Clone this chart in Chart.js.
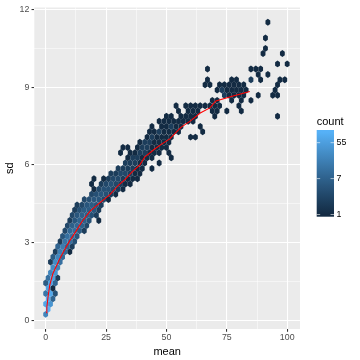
<!DOCTYPE html>
<html><head><meta charset="utf-8">
<script src="https://cdn.jsdelivr.net/npm/chart.js@4.4.1/dist/chart.umd.min.js"></script>
<style>html,body{margin:0;padding:0;background:#fff}canvas{display:block}</style>
</head><body>
<canvas id="c" width="360" height="360"></canvas>
<script>
// ---- data: hexbin cells (row sd, cell means, cell counts) ----
const rowSd = [0.22,0.42,0.62,0.82,1.03,1.23,1.43,1.63,1.83,2.03,2.24,2.44,2.64,2.84,3.04,3.24,3.45,3.65,3.85,4.05,4.25,4.45,4.66,4.86,5.06,5.26,5.46,5.66,5.86,6.07,6.27,6.47,6.67,6.87,7.07,7.28,7.48,7.68,7.88,8.08,8.28,8.49,8.69,8.89,9.09,9.29,9.49,9.70,9.90,10.30,10.50,10.90,11.51];
const rowMeans = [
 [0],[1],[0,2],[1,3],[0,2,4],[1,3],[0,2,4],[1,3,5],[2,4],[3,5],
 [2,4,6],[3,5,7],[4,6,8,10],[5,7,9,11],[6,8,10,12],[7,9,11,13],[8,10,12,14,16],[9,11,13,15,17],[10,12,14,16,18,22],[11,13,15,17,19,21],
 [12,14,16,18,20,22],[13,15,17,19,21,23],[16,18,20,22,24,26],[19,21,23,25,27,29],[20,22,24,26,28,30,32],[19,23,25,27,29,31,33,35],[20,24,26,28,30,32,34,36,38],[27,29,31,33,35,37,39],[30,32,34,36,38,40,44],[33,35,37,39,41,47],
 [34,36,38,40,42,44,52],[31,35,37,39,41,43,45,47,51],[32,34,38,40,42,44,46,48,50],[39,41,43,45,47,49,51],[42,44,46,48,50,52,60,62],[43,45,47,49,51,53,55,65],[44,48,50,52,54,56,64],[47,49,51,53,55,57,59,61],[50,52,56,58,60,62,70,96],[55,59,61,63,69,71,75,81],
 [54,58,60,62,64,66,68,70,72,80],[69,71,77,81,85],[74,76,78,80,82,88,94,96],[71,73,75,77,79,81,83,95],[66,68,72,74,76,78,80,82,96],[67,77,79,85,89,97,99],[88,92],[67,85,87,89],[96,100],[90,98],[91],[91],[92]
];
const rowCounts = [
 [25],[98],[70,40],[85,8],[15,75,4],[60,1],[6,60,8],[12,55,2],[25,40],[30,22],
 [2,30,12],[6,25,10],[2,20,10,1],[8,18,9,2],[2,14,12,4],[5,12,12,5],[3,9,11,6,2],[3,7,9,7,3],[2,5,8,7,4,1],[3,5,7,7,4,2],
 [2,4,6,6,5,2],[2,3,5,6,5,2],[3,4,5,5,3,1],[3,4,5,4,2,1],[1,3,4,4,3,2,1],[1,2,3,4,3,2,1,1],[1,1,2,3,3,2,1,1,1],[2,2,3,3,2,1,1],[2,2,2,2,1,1,1],[2,2,2,1,1,1],
 [1,2,2,1,1,1,1],[1,1,1,2,2,1,1,1,1],[1,1,1,2,2,1,1,1,1],[1,2,2,1,1,1,1],[1,2,1,1,1,1,1,1],[1,1,2,1,1,1,1,1],[1,1,1,2,1,1,1],[1,1,1,1,1,1,1,1],[1,1,1,1,1,1,1,1],[1,1,1,1,1,1,1,1],
 [1,1,1,1,1,1,1,1,1,1],[1,1,1,1,1],[2,1,1,1,1,1,1,1],[1,2,1,1,1,1,1,1],[1,1,1,1,1,1,1,1,1],[1,1,1,2,1,1,1],[1,1],[1,1,1,1],[1,1],[1,1],[1],[1],[1]
];
// running median line (red)
const lineMean = [0.2,0.5,1,1.7,3,4.5,6,8,10,12,15,18.3,22,26.6,30,33,36,39,41,45,48,51.4,56,60,64,68,70.5,77.6,84.5];
const lineSd   = [0.28,0.5,0.9,1.35,1.8,2.1,2.4,2.75,3.07,3.35,3.8,4.2,4.5,4.85,5.2,5.45,5.75,6.0,6.3,6.6,6.8,7.0,7.45,7.7,8.0,8.2,8.47,8.66,8.83];
// axes
const xTicks = [0,25,50,75,100];
const yTicks = [0,3,6,9,12];
const legendBreaks = [1, 7.389, 54.6];
const legendLabels = ['1','7','55'];

// ---- build tables ----
const hexPoints = [], hexCount = [];
rowSd.forEach((sd, r) => rowMeans[r].forEach((m, j) => { hexPoints.push({x: m, y: sd}); hexCount.push(rowCounts[r][j]); }));
const linePoints = lineMean.map((m, i) => ({x: m, y: lineSd[i]}));
const maxCount = Math.max(...hexCount);

// ---- colour scale (ggplot default gradient in Lab, log trans) ----
function s2l(c){c/=255;return c<=0.04045?c/12.92:Math.pow((c+0.055)/1.055,2.4);}
function l2s(c){const v=c<=0.0031308?12.92*c:1.055*Math.pow(c,1/2.4)-0.055;return Math.round(Math.max(0,Math.min(1,v))*255);}
function toLab(hex){const r=s2l(parseInt(hex.slice(1,3),16)),g=s2l(parseInt(hex.slice(3,5),16)),b=s2l(parseInt(hex.slice(5,7),16));
 let X=(0.4124*r+0.3576*g+0.1805*b)/0.95047,Y=0.2126*r+0.7152*g+0.0722*b,Z=(0.0193*r+0.1192*g+0.9505*b)/1.08883;
 const f=t=>t>0.008856?Math.cbrt(t):7.787*t+16/116;const fx=f(X),fy=f(Y),fz=f(Z);return [116*fy-16,500*(fx-fy),200*(fy-fz)];}
function fromLab(L,a,bb){const fy=(L+16)/116,fx=fy+a/500,fz=fy-bb/200;const fi=t=>t*t*t>0.008856?t*t*t:(t-16/116)/7.787;
 const X=fi(fx)*0.95047,Y=fi(fy),Z=fi(fz)*1.08883;
 const r=3.2406*X-1.5372*Y-0.4986*Z,g=-0.9689*X+1.8758*Y+0.0415*Z,b=0.0557*X-0.2040*Y+1.0570*Z;
 return 'rgb('+l2s(r)+','+l2s(g)+','+l2s(b)+')';}
const LOW=toLab('#132B43'), HIGH=toLab('#56B1F7');
function colAt(t){t=Math.max(0,Math.min(1,t));return fromLab(LOW[0]+(HIGH[0]-LOW[0])*t,LOW[1]+(HIGH[1]-LOW[1])*t,LOW[2]+(HIGH[2]-LOW[2])*t);}
function countColor(n){return colAt(Math.log(n)/Math.log(maxCount));}

const FONT='"Liberation Sans", Arial, sans-serif';
const HEX_W = 2, HEX_H = 0.269; // hex width / height in data units

const bgPlugin = {id:'bg', beforeDraw(chart){const {ctx,chartArea:a}=chart;ctx.save();ctx.fillStyle='#fff';ctx.fillRect(0,0,chart.width,chart.height);
 ctx.fillStyle='#EBEBEB';ctx.fillRect(a.left,a.top,a.right-a.left,a.bottom-a.top);ctx.restore();}};

const hexPlugin = {id:'hex', beforeDatasetsDraw(chart){
 const ctx=chart.ctx, xs=chart.scales.x, ys=chart.scales.y, a=chart.chartArea;
 const w=Math.abs(xs.getPixelForValue(HEX_W)-xs.getPixelForValue(0)), h=Math.abs(ys.getPixelForValue(0)-ys.getPixelForValue(HEX_H));
 const meta=chart.getDatasetMeta(0);
 ctx.save();ctx.beginPath();ctx.rect(a.left,a.top,a.right-a.left,a.bottom-a.top);ctx.clip();
 meta.data.forEach((el,i)=>{const x=el.x,y=el.y;ctx.fillStyle=countColor(hexCount[i]);ctx.beginPath();
  ctx.moveTo(x,y-h/2);ctx.lineTo(x+w/2,y-h/4);ctx.lineTo(x+w/2,y+h/4);ctx.lineTo(x,y+h/2);ctx.lineTo(x-w/2,y+h/4);ctx.lineTo(x-w/2,y-h/4);ctx.closePath();ctx.fill();});
 ctx.restore();}};

const legendPlugin = {id:'cbar', afterDraw(chart){
 const ctx=chart.ctx; const bx=316.7,bw=17.3,bt=130,bb=216.7; const pad=(bb-bt)/40; const it=bt+pad, ib=bb-pad;
 ctx.save();
 ctx.fillStyle='#000';ctx.font='11px '+FONT;ctx.textAlign='left';ctx.textBaseline='middle';ctx.fillText('count',bx,122.3);
 const g=ctx.createLinearGradient(0,ib,0,it);for(let i=0;i<=20;i++)g.addColorStop(i/20,colAt(i/20));
 ctx.fillStyle=g;ctx.fillRect(bx,bt,bw,bb-bt);
 ctx.font='8.8px '+FONT;ctx.strokeStyle='#fff';ctx.lineWidth=0.6;
 legendBreaks.forEach((v,i)=>{const y=ib-(Math.log(v)/Math.log(maxCount))*(ib-it);
  ctx.beginPath();ctx.moveTo(bx,y);ctx.lineTo(bx+bw/5,y);ctx.moveTo(bx+bw,y);ctx.lineTo(bx+bw-bw/5,y);ctx.stroke();
  ctx.fillStyle='#000';ctx.fillText(legendLabels[i],bx+bw+2.6,y);});
 ctx.restore();}};

const isMaj=(v,step)=>Math.abs(v/step-Math.round(v/step))<1e-6;
new Chart(document.getElementById('c'),{
 type:'scatter',
 data:{datasets:[
  {type:'scatter',data:hexPoints,pointRadius:0,pointHoverRadius:0},
  {type:'line',data:linePoints,borderColor:'#FF0000',borderWidth:1.07,pointRadius:0,fill:false,tension:0}
 ]},
 options:{responsive:false,animation:false,devicePixelRatio:1,events:[],
  layout:{padding:{left:0,right:60,top:5,bottom:0}},
  plugins:{legend:{display:false},tooltip:{enabled:false}},
  scales:{
   x:{type:'linear',min:-4.7,max:105.3,
    ticks:{stepSize:12.5,includeBounds:false,autoSkip:false,maxRotation:0,padding:1,color:'#4D4D4D',font:{family:FONT,size:8.8},
     callback:v=>isMaj(v,25)&&xTicks.includes(v)?String(v):''},
    grid:{color:'#fff',lineWidth:c=>isMaj(c.tick.value,25)?1.07:0.53,tickColor:c=>isMaj(c.tick.value,25)?'#333333':'rgba(0,0,0,0)',tickLength:2.75,tickWidth:1.07},
    border:{display:false},
    title:{display:true,text:'mean',color:'#000',font:{family:FONT,size:11},padding:{top:0,bottom:1.7}},
    afterFit:s=>{s.height=31;}},
   y:{type:'linear',min:-0.345,max:12.08,
    ticks:{stepSize:1.5,includeBounds:false,autoSkip:false,padding:2.2,color:'#4D4D4D',font:{family:FONT,size:8.8},
     callback:v=>isMaj(v,3)&&yTicks.includes(v)?String(v):''},
    grid:{color:'#fff',lineWidth:c=>isMaj(c.tick.value,3)?1.07:0.53,tickColor:c=>isMaj(c.tick.value,3)?'#333333':'rgba(0,0,0,0)',tickLength:2.75,tickWidth:1.07},
    border:{display:false},
    title:{display:true,text:'sd',color:'#000',font:{family:FONT,size:11},padding:{top:3.4,bottom:0}},
    afterFit:s=>{s.width=34.3;}}
  }},
 plugins:[bgPlugin,hexPlugin,legendPlugin]
});
</script>
</body></html>
